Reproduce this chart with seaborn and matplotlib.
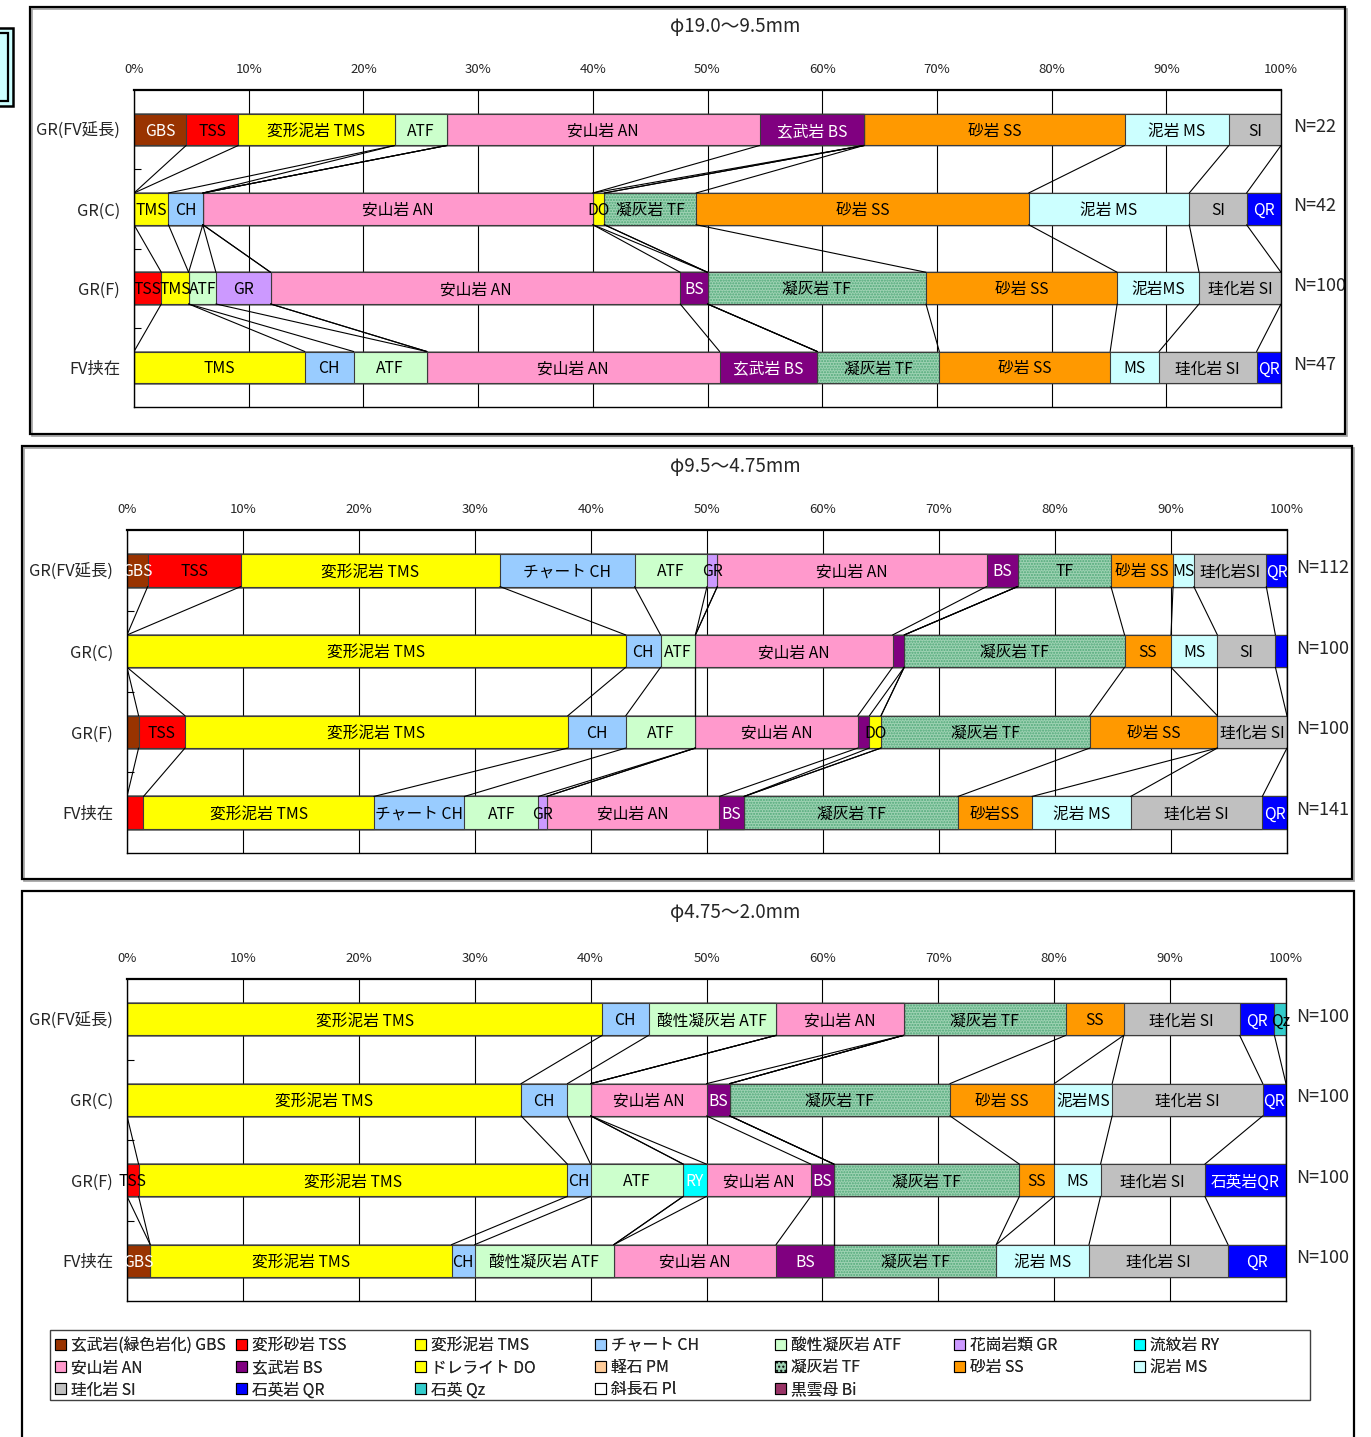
import numpy as np
import pandas as pd
import matplotlib
matplotlib.use("Agg")
import matplotlib.pyplot as plt
from matplotlib.patches import Rectangle, Patch
from matplotlib.colors import to_rgba
import matplotlib.transforms as mtransforms
import seaborn as sns

# ---------------------------------------------------------------- series
SERIES_CODES = ["GBS", "TSS", "TMS", "CH", "ATF", "GR", "RY", "AN", "BS", "DO",
                "PM", "TF", "SS", "MS", "SI", "QR", "Qz", "Pl", "Bi"]
SERIES_NAMES = ["玄武岩(緑色岩化) GBS", "変形砂岩 TSS", "変形泥岩 TMS", "チャート CH",
                "酸性凝灰岩 ATF", "花崗岩類 GR", "流紋岩 RY", "安山岩 AN", "玄武岩 BS",
                "ドレライト DO", "軽石 PM", "凝灰岩 TF", "砂岩 SS", "泥岩 MS", "珪化岩 SI",
                "石英岩 QR", "石英 Qz", "斜長石 Pl", "黒雲母 Bi"]
SERIES_COLORS = ["#993300", "#FF0000", "#FFFF00", "#99CCFF", "#CCFFCC", "#CC99FF",
                 "#00FFFF", "#FF99CC", "#800080", "#FFFF00", "#FFCC99", "#9ED2B3",
                 "#FF9900", "#CCFFFF", "#C0C0C0", "#0000FF", "#33CCCC", "#FFFFFF",
                 "#993366"]
TF_HATCH_COLOR = "#4FA878"
WHITE_TEXT = {"GBS", "BS", "QR", "RY"}

ROW_NAMES = ["GR(FV延長)", "GR(C)", "GR(F)", "FV挟在"]

# ---------------------------------------------------------------- panel 1
P1_TITLE = "φ19.0〜9.5mm"
P1_N = ["N=22", "N=42", "N=100", "N=47"]
P1_R1_CODES = ["GBS", "TSS", "TMS", "ATF", "AN", "BS", "SS", "MS", "SI"]
P1_R1_VALUES = [1, 1, 3, 1, 6, 2, 5, 2, 1]
P1_R1_LABELS = ["GBS", "TSS", "変形泥岩 TMS", "ATF", "安山岩 AN", "玄武岩 BS", "砂岩 SS", "泥岩 MS", "SI"]
P1_R2_CODES = ["TMS", "CH", "AN", "DO", "TF", "SS", "MS", "SI", "QR"]
P1_R2_VALUES = [3, 3, 34, 1, 8, 29, 14, 5, 3]
P1_R2_LABELS = ["TMS", "CH", "安山岩 AN", "DO", "凝灰岩 TF", "砂岩 SS", "泥岩 MS", "SI", "QR"]
P1_R3_CODES = ["TSS", "TMS", "ATF", "GR", "AN", "BS", "TF", "SS", "MS", "SI"]
P1_R3_VALUES = [1, 1, 1, 2, 15, 1, 8, 7, 3, 3]
P1_R3_LABELS = ["TSS", "TMS", "ATF", "GR", "安山岩 AN", "BS", "凝灰岩 TF", "砂岩 SS", "泥岩MS", "珪化岩 SI"]
P1_R4_CODES = ["TMS", "CH", "ATF", "AN", "BS", "TF", "SS", "MS", "SI", "QR"]
P1_R4_VALUES = [7, 2, 3, 12, 4, 5, 7, 2, 4, 1]
P1_R4_LABELS = ["TMS", "CH", "ATF", "安山岩 AN", "玄武岩 BS", "凝灰岩 TF", "砂岩 SS", "MS", "珪化岩 SI", "QR"]

# ---------------------------------------------------------------- panel 2
P2_TITLE = "φ9.5〜4.75mm"
P2_N = ["N=112", "N=100", "N=100", "N=141"]
P2_R1_CODES = ["GBS", "TSS", "TMS", "CH", "ATF", "GR", "AN", "BS", "TF", "SS", "MS", "SI", "QR"]
P2_R1_VALUES = [2, 9, 25, 13, 7, 1, 26, 3, 9, 6, 2, 7, 2]
P2_R1_LABELS = ["GBS", "TSS", "変形泥岩 TMS", "チャート CH", "ATF", "GR", "安山岩 AN", "BS", "TF", "砂岩 SS", "MS", "珪化岩SI", "QR"]
P2_R2_CODES = ["TMS", "CH", "ATF", "AN", "BS", "TF", "SS", "MS", "SI", "QR"]
P2_R2_VALUES = [43, 3, 3, 17, 1, 19, 4, 4, 5, 1]
P2_R2_LABELS = ["変形泥岩 TMS", "CH", "ATF", "安山岩 AN", "", "凝灰岩 TF", "SS", "MS", "SI", ""]
P2_R3_CODES = ["GBS", "TSS", "TMS", "CH", "ATF", "AN", "BS", "DO", "TF", "SS", "SI"]
P2_R3_VALUES = [1, 4, 33, 5, 6, 14, 1, 1, 18, 11, 6]
P2_R3_LABELS = ["", "TSS", "変形泥岩 TMS", "CH", "ATF", "安山岩 AN", "", "DO", "凝灰岩 TF", "砂岩 SS", "珪化岩 SI"]
P2_R4_CODES = ["TSS", "TMS", "CH", "ATF", "GR", "AN", "BS", "TF", "SS", "MS", "SI", "QR"]
P2_R4_VALUES = [2, 28, 11, 9, 1, 21, 3, 26, 9, 12, 16, 3]
P2_R4_LABELS = ["", "変形泥岩 TMS", "チャート CH", "ATF", "GR", "安山岩 AN", "BS", "凝灰岩 TF", "砂岩SS", "泥岩 MS", "珪化岩 SI", "QR"]

# ---------------------------------------------------------------- panel 3
P3_TITLE = "φ4.75〜2.0mm"
P3_N = ["N=100", "N=100", "N=100", "N=100"]
P3_R1_CODES = ["TMS", "CH", "ATF", "AN", "TF", "SS", "SI", "QR", "Qz"]
P3_R1_VALUES = [41, 4, 11, 11, 14, 5, 10, 3, 1]
P3_R1_LABELS = ["変形泥岩 TMS", "CH", "酸性凝灰岩 ATF", "安山岩 AN", "凝灰岩 TF", "SS", "珪化岩 SI", "QR", "Qz"]
P3_R2_CODES = ["TMS", "CH", "ATF", "AN", "BS", "TF", "SS", "MS", "SI", "QR"]
P3_R2_VALUES = [34, 4, 2, 10, 2, 19, 9, 5, 13, 2]
P3_R2_LABELS = ["変形泥岩 TMS", "CH", "", "安山岩 AN", "BS", "凝灰岩 TF", "砂岩 SS", "泥岩MS", "珪化岩 SI", "QR"]
P3_R3_CODES = ["TSS", "TMS", "CH", "ATF", "RY", "AN", "BS", "TF", "SS", "MS", "SI", "QR"]
P3_R3_VALUES = [1, 37, 2, 8, 2, 9, 2, 16, 3, 4, 9, 7]
P3_R3_LABELS = ["TSS", "変形泥岩 TMS", "CH", "ATF", "RY", "安山岩 AN", "BS", "凝灰岩 TF", "SS", "MS", "珪化岩 SI", "石英岩QR"]
P3_R4_CODES = ["GBS", "TMS", "CH", "ATF", "AN", "BS", "TF", "MS", "SI", "QR"]
P3_R4_VALUES = [2, 26, 2, 12, 14, 5, 14, 8, 12, 5]
P3_R4_LABELS = ["GBS", "変形泥岩 TMS", "CH", "酸性凝灰岩 ATF", "安山岩 AN", "BS", "凝灰岩 TF", "泥岩 MS", "珪化岩 SI", "QR"]

X_TICKS = list(range(0, 101, 10))
X_TICK_LABELS = [f"{t}%" for t in X_TICKS]

# ---------------------------------------------------------------- style
sns.set_style("white")
plt.rcParams["font.family"] = ["Noto Sans CJK JP", "DejaVu Sans"]
plt.rcParams["hatch.linewidth"] = 1.0

W, H = 1371, 1437
fig = plt.figure(figsize=(W / 100, H / 100), dpi=100)
fig.patch.set_facecolor("white")


def fx(x):
    return x / W


def fy(y):
    return 1 - y / H


def px_axes(l, t, r, b):
    return fig.add_axes([fx(l), fy(b), (r - l) / W, (b - t) / H])


def px_rect(l, t, r, b, **kw):
    rect = Rectangle((fx(l), fy(b)), (r - l) / W, (b - t) / H,
                     transform=fig.transFigure, **kw)
    fig.add_artist(rect)
    return rect


def framed(l, t, r, b):
    px_rect(l + 2, t + 2, r + 2, b + 2, fill=False, edgecolor="#A0A0A0", lw=1.2)
    px_rect(l, t, r, b, fill=False, edgecolor="black", lw=1.6)


def draw_panel(ax, rows, n_labels, n_x):
    table = pd.DataFrame(0.0, index=ROW_NAMES, columns=SERIES_CODES)
    for name, (codes, vals, _) in zip(ROW_NAMES, rows):
        v = np.asarray(vals, dtype=float)
        table.loc[name, codes] = v / v.sum() * 100.0
    cum = table.cumsum(axis=1)

    # stacked bars: draw cumulative bars from the last series to the first
    for k in reversed(range(len(SERIES_CODES))):
        code = SERIES_CODES[k]
        df = pd.DataFrame({"row": ROW_NAMES, "cum": cum[code].values})
        sns.barplot(data=df, x="cum", y="row", order=ROW_NAMES, orient="h",
                    color=SERIES_COLORS[k], saturation=1, width=0.4,
                    errorbar=None, edgecolor="#3C3C3C", linewidth=0.8, ax=ax)
        if code == "TF":
            for p in ax.containers[-1]:
                p.set_hatch("......")
                if hasattr(p, "set_hatchcolor"):
                    p.set_hatchcolor(TF_HATCH_COLOR)
                else:
                    p._hatch_color = to_rgba(TF_HATCH_COLOR)

    # labels inside segments
    for i, (codes, vals, labels) in enumerate(rows):
        for code, lab in zip(codes, labels):
            if not lab:
                continue
            k = SERIES_CODES.index(code)
            end = cum.iloc[i, k]
            start = end - table.iloc[i, k]
            ax.text((start + end) / 2, i + 0.02, lab, ha="center", va="center",
                    fontsize=11.3,
                    color="white" if code in WHITE_TEXT else "black",
                    clip_on=False, zorder=5)

    # series lines between adjacent bars
    for i in range(len(ROW_NAMES) - 1):
        for k in range(len(SERIES_CODES)):
            ax.plot([cum.iloc[i, k], cum.iloc[i + 1, k]], [i + 0.2, i + 0.8],
                    color="black", lw=0.8, zorder=3)

    ax.set_xlim(0, 100)
    ax.set_ylim(len(ROW_NAMES) - 0.5, -0.5)
    ax.set_xticks(X_TICKS)
    ax.set_xticklabels(X_TICK_LABELS, fontsize=9.5)
    ax.xaxis.tick_top()
    ax.tick_params(axis="x", length=0, pad=10, top=False, bottom=False,
                   labeltop=True, labelbottom=False)
    ax.set_yticks(range(len(ROW_NAMES)))
    ax.set_yticklabels(ROW_NAMES, fontsize=11.8)
    ax.tick_params(axis="y", length=0, pad=10)
    ax.set_yticks([0.5, 1.5, 2.5], minor=True)
    ax.tick_params(axis="y", which="minor", direction="in", length=5,
                   width=0.8, color="black", left=True)
    ax.set_xlabel("")
    ax.set_ylabel("")
    ax.grid(True, axis="x", color="black", lw=0.8)
    ax.grid(False, axis="y")
    ax.set_axisbelow(True)
    for side, sp in ax.spines.items():
        sp.set_visible(True)
        sp.set_color("black")
        sp.set_linewidth(1.6 if side == "top" else 1.0)

    tr = mtransforms.blended_transform_factory(ax.transAxes, ax.transData)
    for i, n in enumerate(n_labels):
        ax.text(n_x, i - 0.03, n, transform=tr, ha="left", va="center",
                fontsize=13, clip_on=False)


# ---------------------------------------------------------------- frames
framed(30, 7, 1345, 434)
framed(22, 446, 1352, 879)
px_rect(22, 891, 1354, 1460, fill=False, edgecolor="black", lw=1.6)
# fragment of a neighbouring box at the very left edge
px_rect(-6, 28, 13, 106, facecolor="#CCFFFF", edgecolor="black", lw=1.8)
px_rect(-6, 33, 8, 101, fill=False, edgecolor="black", lw=1.6)

# ---------------------------------------------------------------- panels
ax1 = px_axes(134, 90, 1281, 407)
draw_panel(ax1, [(P1_R1_CODES, P1_R1_VALUES, P1_R1_LABELS),
                 (P1_R2_CODES, P1_R2_VALUES, P1_R2_LABELS),
                 (P1_R3_CODES, P1_R3_VALUES, P1_R3_LABELS),
                 (P1_R4_CODES, P1_R4_VALUES, P1_R4_LABELS)], P1_N, 1.011)
fig.text(fx(735), fy(27), P1_TITLE, ha="center", va="center", fontsize=13.5)

ax2 = px_axes(127, 530, 1287, 853)
draw_panel(ax2, [(P2_R1_CODES, P2_R1_VALUES, P2_R1_LABELS),
                 (P2_R2_CODES, P2_R2_VALUES, P2_R2_LABELS),
                 (P2_R3_CODES, P2_R3_VALUES, P2_R3_LABELS),
                 (P2_R4_CODES, P2_R4_VALUES, P2_R4_LABELS)], P2_N, 1.008)
fig.text(fx(735), fy(467), P2_TITLE, ha="center", va="center", fontsize=13.5)

ax3 = px_axes(127, 979, 1286, 1301)
draw_panel(ax3, [(P3_R1_CODES, P3_R1_VALUES, P3_R1_LABELS),
                 (P3_R2_CODES, P3_R2_VALUES, P3_R2_LABELS),
                 (P3_R3_CODES, P3_R3_VALUES, P3_R3_LABELS),
                 (P3_R4_CODES, P3_R4_VALUES, P3_R4_LABELS)], P3_N, 1.009)
fig.text(fx(735), fy(912), P3_TITLE, ha="center", va="center", fontsize=13.5)

# ---------------------------------------------------------------- legend
px_rect(50, 1330, 1310, 1400, fill=False, edgecolor="#404040", lw=1.0)
LEGEND_COL_X = [55, 236, 415, 595, 775, 954, 1134]
for j, x0 in enumerate(LEGEND_COL_X):
    idx = [k for k in (j, j + 7, j + 14) if k < len(SERIES_CODES)]
    handles = []
    for k in idx:
        h = Patch(facecolor=SERIES_COLORS[k], edgecolor="black", lw=0.8)
        if SERIES_CODES[k] == "TF":
            h.set_hatch("....")
        handles.append(h)
    leg = fig.legend(handles, [SERIES_NAMES[k] for k in idx],
                     loc="upper left", bbox_to_anchor=(fx(x0), fy(1337)),
                     bbox_transform=fig.transFigure, frameon=False,
                     fontsize=11.3, handlelength=0.7, handleheight=0.7,
                     handletextpad=0.35, labelspacing=0.33, borderpad=0,
                     borderaxespad=0)
    fig.add_artist(leg)

fig.savefig("out.png", dpi=100)
